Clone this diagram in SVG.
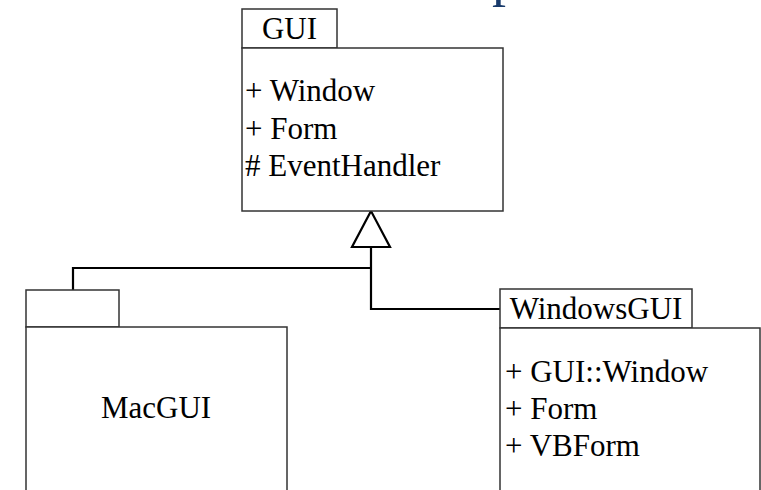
<svg xmlns="http://www.w3.org/2000/svg" width="761" height="490" viewBox="0 0 761 490">
<style>
.box{fill:#fff;stroke:#333;stroke-width:1.5}
.t{font-size:31px;fill:#000}
.c{text-anchor:middle}
.conn{fill:none;stroke:#000;stroke-width:2.2}
</style>
<rect width="761" height="490" fill="#fff"/>
<text font-family="Liberation Serif" font-size="56" fill="#183A6B" x="492" y="-5">p</text>
<g id="connectors">
<path class="conn" d="M371,247 V309 H500 M371,268 H73 V290"/>
<polygon points="371,211 352,247 390,247" fill="#fff" stroke="#000" stroke-width="2.2"/>
</g>
<g id="GUI">
<rect class="box" x="242" y="9" width="95" height="39"/>
<rect class="box" x="242" y="48" width="261" height="163"/>
<text class="t c" font-family="Liberation Serif" x="289.5" y="39">GUI</text>
<text class="t" font-family="Liberation Serif" x="245" y="101">+ Window</text>
<text class="t" font-family="Liberation Serif" x="245" y="139">+ Form</text>
<text class="t" font-family="Liberation Serif" x="245" y="176"># EventHandler</text>
</g>
<g id="MacGUI">
<rect class="box" x="26" y="290" width="93" height="37"/>
<rect class="box" x="26" y="327" width="261" height="200"/>
<text class="t c" font-family="Liberation Serif" x="156" y="418">MacGUI</text>
</g>
<g id="WindowsGUI">
<rect class="box" x="500" y="289" width="192" height="39"/>
<rect class="box" x="500" y="328" width="260" height="200"/>
<text class="t c" font-family="Liberation Serif" x="596" y="319">WindowsGUI</text>
<text class="t" font-family="Liberation Serif" x="505" y="382">+ GUI::Window</text>
<text class="t" font-family="Liberation Serif" x="505" y="419">+ Form</text>
<text class="t" font-family="Liberation Serif" x="505" y="456">+ VBForm</text>
</g>
</svg>
